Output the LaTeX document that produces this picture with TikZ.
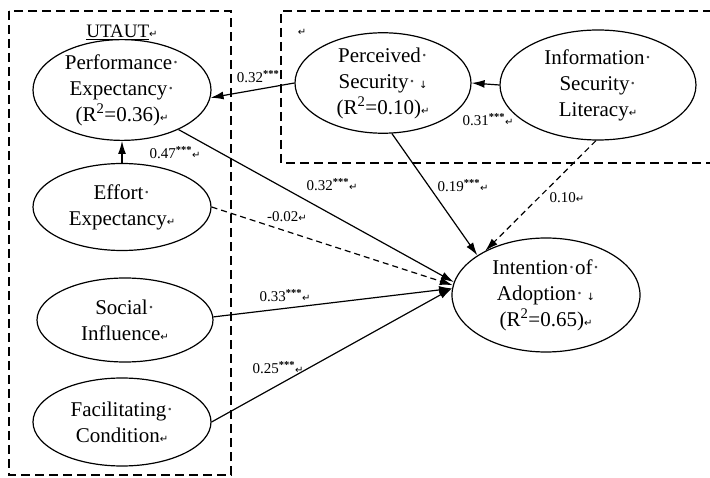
\documentclass[tikz,border=0pt]{standalone}
\usepackage{fontspec}
\setmainfont{Liberation Serif}
\newfontfamily\symf{DejaVu Sans}
\usetikzlibrary{shapes.geometric,arrows.meta}
\newcommand\retm{{\symf\fontsize{10}{10}\selectfont ↵}}
\newcommand\dnm{{\symf\fontsize{10}{10}\selectfont ↓}}
\newcommand\sig{\textsuperscript{\bfseries ***}}
\newcommand\dotm{{\color{black!70}·}}
\tikzset{
  latent/.style={ellipse, draw, line width=1.2pt, inner sep=0pt, align=center,
    font=\fontsize{21}{26}\selectfont},
  grpbox/.style={draw, line width=2pt, dash pattern=on 9pt off 5pt},
  path/.style={line width=1.2pt, -{Latex[length=13pt,width=8pt]}},
  nspath/.style={path, dash pattern=on 6pt off 4pt},
  coef/.style={inner sep=0pt, font=\fontsize{15}{17}\selectfont}
}
\begin{document}
\begin{tikzpicture}[x=1pt,y=-1pt]
\useasboundingbox[fill=white] (0,0) rectangle (710,478);
% group boxes
\draw[grpbox] (9,11) rectangle (231,475);
\draw[grpbox] (712,11) -- (281,11) -- (281,163) -- (712,163);
% texts in boxes
\node[inner sep=0pt, font=\fontsize{19}{22}\selectfont] (utaut) at (122,32) {\underline{UTAUT}\retm};
\node[inner sep=0pt] (emptypar) at (302,32) {\retm};
% constructs
\node[latent, minimum width=178pt, minimum height=94pt] (PE) at (122,90)
  {Performance\dotm\\Expectancy\dotm\\(R\textsuperscript{2}=0.36)\retm};
\node[latent, minimum width=178pt, minimum height=87pt] (EE) at (122,207)
  {Effort\dotm\\Expectancy\retm};
\node[latent, minimum width=176pt, minimum height=84pt] (SI) at (125,320)
  {Social\dotm\\Influence\retm};
\node[latent, minimum width=178pt, minimum height=88pt] (FC) at (122,422)
  {Facilitating\dotm\\Condition\retm};
\node[latent, minimum width=176pt, minimum height=95pt] (PS) at (383,83)
  {Perceived\dotm\\Security\dotm\,\dnm\\(R\textsuperscript{2}=0.10)\retm};
\node[latent, minimum width=196pt, minimum height=110pt] (ISL) at (598,85)
  {Information\dotm\\Security\dotm\\Literacy\retm};
\node[latent, minimum width=188pt, minimum height=114pt] (IA) at (546,295)
  {Intention\dotm of\dotm\\Adoption\dotm\,\dnm\\(R\textsuperscript{2}=0.65)\retm};
% paths
\draw[path] (PS.west) -- (PE.-5);
\draw[path] (ISL.west) -- (PS.east);
\draw[path] (EE.north) -- (PE.south);
\draw[path] (PE.-35) -- (IA.172);
\draw[nspath] (EE.east) -- (IA.174);
\draw[path] (SI.2) -- (IA.176);
\draw[path] (FC.east) -- (IA.176);
\draw[path] (PS.-80) -- (IA.150);
\draw[nspath] (ISL.-92) -- (IA.144);
% coefficients
\node[coef] (c1) at (258,77) {0.32\sig};
\node[coef] (c2) at (488,120) {0.31\sig\retm};
\node[coef] (c3) at (175,153) {0.47\sig\retm};
\node[coef] (c4) at (332,185) {0.32\sig\retm};
\node[coef] (c5) at (287,217) {-0.02\retm};
\node[coef] (c6) at (285,296) {0.33\sig\retm};
\node[coef] (c7) at (278,368) {0.25\sig\retm};
\node[coef] (c8) at (463,186) {0.19\sig\retm};
\node[coef] (c9) at (567,198) {0.10\retm};
\end{tikzpicture}
\end{document}
